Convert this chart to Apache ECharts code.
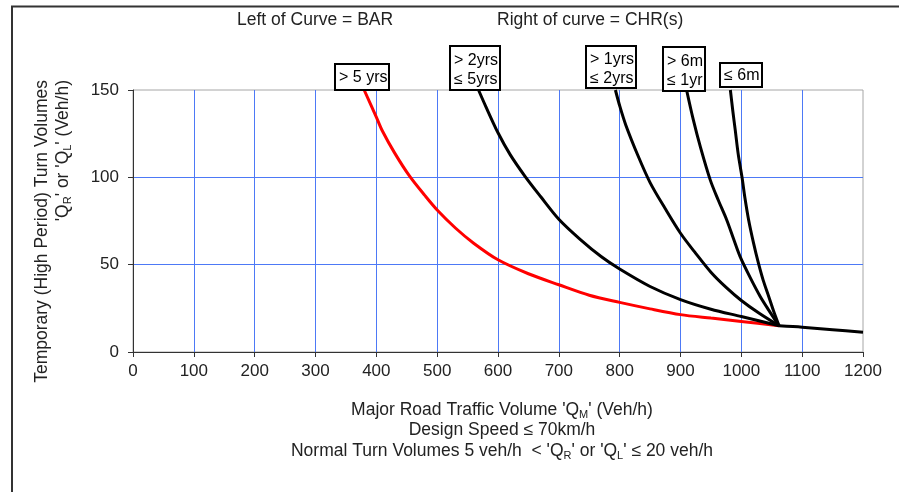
<!DOCTYPE html>
<html>
<head>
<meta charset="utf-8">
<script src="https://cdn.jsdelivr.net/npm/echarts@6/dist/echarts.min.js"></script>
<style>
html,body{margin:0;padding:0;background:#fff;}
#chart{width:899px;height:492px;}
</style>
</head>
<body>
<div id="chart"></div>
<script>
// ---- data ----
var xTickValues = [0, 100, 200, 300, 400, 500, 600, 700, 800, 900, 1000, 1100, 1200];
var yTickValues = [0, 50, 100, 150];

var seriesNames = ['> 5 yrs', '> 2yrs ≤ 5yrs', '> 1yrs ≤ 2yrs', '> 6m ≤ 1yr', '≤ 6m'];

// red curve (> 5 yrs) - boundary BAR
var red_x = [380, 400, 410, 430, 455, 480, 500, 530, 560, 600, 650, 700, 750, 800, 850, 900, 950, 1000, 1062];
var red_y = [150, 134.5, 126.5, 114, 100.5, 89.5, 81.3, 71, 62.3, 52.8, 44.8, 38.5, 32.5, 28.4, 24.7, 21.4, 19.4, 17.5, 15];

// > 2yrs <= 5yrs
var c2_x = [568, 580, 600, 620, 645, 670, 700, 735, 770, 800, 850, 900, 950, 1000, 1062];
var c2_y = [150, 140.5, 125.5, 113, 100.3, 89, 76, 64.5, 54.5, 47.5, 37.5, 30, 24.5, 20.3, 15];

// > 1yrs <= 2yrs
var c3_x = [793, 800, 810, 830, 850, 875, 900, 925, 950, 975, 1000, 1030, 1062];
var c3_y = [150, 141, 130, 112.5, 97, 82, 68, 56.5, 45.7, 37, 29.5, 22, 15];

// > 6m <= 1yr
var c4_x = [910, 921, 933, 949, 962, 976, 987, 998, 1014, 1031, 1045, 1062];
var c4_y = [150, 133, 117, 98.4, 87, 75.6, 65, 54.6, 43, 31.8, 24, 15];

// <= 6m
var c5_x = [982, 986, 990, 995, 1001, 1006, 1012, 1020, 1028, 1036, 1045, 1053, 1062];
var c5_y = [150, 138, 127, 113, 100.3, 88, 75.6, 62.5, 51, 41, 31.8, 23.5, 15];

// shared tail (all curves)
var tail_x = [1062, 1100, 1150, 1200];
var tail_y = [15, 14.2, 12.8, 11.3];

// ---- helpers ----
function zip(xs, ys) { return xs.map(function (x, i) { return [x, ys[i]]; }); }

var FONT = "Arial, 'Liberation Sans', sans-serif";
var chart = echarts.init(document.getElementById('chart'), null, {renderer: 'canvas'});

function lineSeries(name, xs, ys, color) {
  return {
    name: name, type: 'line', data: zip(xs, ys),
    showSymbol: false, symbol: 'none', smooth: 0.3,
    lineStyle: {color: color, width: 3}, itemStyle: {color: color},
    silent: true
  };
}

function box(x, y, w, h, text, tx, ty) {
  return [
    {type: 'rect', shape: {x: x, y: y, width: w, height: h}, style: {fill: '#fff', stroke: '#000', lineWidth: 2}, z: 100},
    {type: 'text', x: tx, y: ty, style: {text: text, fontSize: 16, fontFamily: FONT, fill: '#000', lineHeight: 19, verticalAlign: 'middle', align: 'left'}, z: 101}
  ];
}

var rich = {
  n: {fontSize: 17.5, fontFamily: FONT, fill: '#222', color: '#222', lineHeight: 20},
  s: {fontSize: 11, fontFamily: FONT, fill: '#222', color: '#222', lineHeight: 14, verticalAlign: 'bottom'}
};

var graphics = [
  {type: 'polyline', shape: {points: [[12, 492], [12, 6.5], [899, 6.5]]}, style: {stroke: '#333', lineWidth: 2, fill: null}, z: 50},
  {type: 'text', x: 237, y: 20, style: {text: 'Left of Curve = BAR', fontSize: 17.5, fontFamily: FONT, fill: '#222', verticalAlign: 'middle'}},
  {type: 'text', x: 497, y: 20, style: {text: 'Right of curve = CHR(s)', fontSize: 17.5, fontFamily: FONT, fill: '#222', verticalAlign: 'middle'}},
  {type: 'text', x: 502, y: 410, style: {text: "{n|Major Road Traffic Volume 'Q}{s|M}{n|' (Veh/h)}", rich: rich, align: 'center', verticalAlign: 'middle'}},
  {type: 'text', x: 502, y: 430, style: {text: "{n|Design Speed ≤ 70km/h}", rich: rich, align: 'center', verticalAlign: 'middle'}},
  {type: 'text', x: 502, y: 451, style: {text: "{n|Normal Turn Volumes 5 veh/h  < 'Q}{s|R}{n|' or 'Q}{s|L}{n|' ≤ 20 veh/h}", rich: rich, align: 'center', verticalAlign: 'middle'}},
  {type: 'text', x: 42, y: 80, rotation: Math.PI / 2, style: {text: "{n|Temporary (High Period) Turn Volumes}", rich: rich, align: 'right', verticalAlign: 'middle'}},
  {type: 'text', x: 63, y: 80, rotation: Math.PI / 2, style: {text: "{n|'Q}{s|R}{n|' or 'Q}{s|L}{n|' (Veh/h)}", rich: rich, align: 'right', verticalAlign: 'middle'}}
];
graphics = graphics
  .concat(box(335, 64, 54, 26, seriesNames[0], 339, 78))
  .concat(box(450, 46, 50, 44, '> 2yrs\n≤ 5yrs', 454, 70))
  .concat(box(586, 46, 50, 42, '> 1yrs\n≤ 2yrs', 590, 69))
  .concat(box(663, 47, 42, 44, '> 6m\n≤ 1yr', 667, 71))
  .concat(box(720, 63, 42, 24, '≤ 6m', 724, 76));

var plainNum = function (v) { return String(v); };

var option = {
  animation: false,
  backgroundColor: '#fff',
  grid: {left: 133, right: 36, top: 90, bottom: 140, show: true, borderColor: '#a6a6a6', borderWidth: 1, backgroundColor: 'transparent'},
  xAxis: {
    type: 'value', min: xTickValues[0], max: xTickValues[xTickValues.length - 1], interval: 100,
    axisLine: {show: true, onZero: false, lineStyle: {color: '#333', width: 1}},
    axisTick: {show: true, length: 5, lineStyle: {color: '#333'}},
    axisLabel: {fontSize: 17, color: '#222', margin: 11, fontFamily: FONT, formatter: plainNum},
    splitLine: {show: true, showMinLine: false, showMaxLine: false, lineStyle: {color: '#4D79F6', width: 1}}
  },
  yAxis: {
    type: 'value', min: yTickValues[0], max: yTickValues[yTickValues.length - 1], interval: 50,
    axisLine: {show: true, onZero: false, lineStyle: {color: '#333', width: 1}},
    axisTick: {show: true, length: 5, lineStyle: {color: '#333'}},
    axisLabel: {fontSize: 17, color: '#222', margin: 14, fontFamily: FONT, formatter: plainNum},
    splitLine: {show: true, showMinLine: false, showMaxLine: false, lineStyle: {color: '#4D79F6', width: 1}}
  },
  series: [
    lineSeries(seriesNames[0], red_x, red_y, '#ff0000'),
    lineSeries(seriesNames[1], c2_x, c2_y, '#000000'),
    lineSeries(seriesNames[2], c3_x, c3_y, '#000000'),
    lineSeries(seriesNames[3], c4_x, c4_y, '#000000'),
    lineSeries(seriesNames[4], c5_x, c5_y, '#000000'),
    lineSeries('tail', tail_x, tail_y, '#000000')
  ],
  graphic: graphics
};
chart.setOption(option);
</script>
</body>
</html>
